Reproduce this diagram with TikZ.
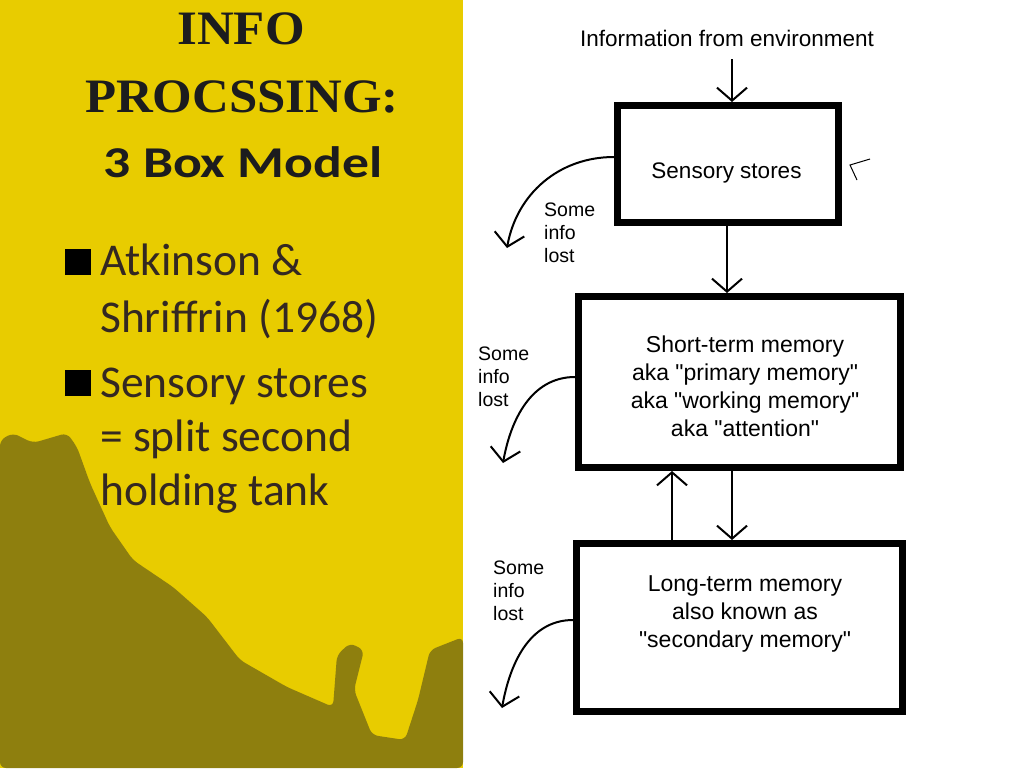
\documentclass[tikz,border=0pt]{standalone}
\usepackage{fontspec}
\newfontfamily\diagfont{Liberation Sans}
\newfontfamily\slidefont{Carlito}
\newfontfamily\titlefont{Liberation Serif}
\usetikzlibrary{positioning, arrows.meta}
\definecolor{panel}{RGB}{232,204,0}
\definecolor{stain}{RGB}{120,108,18}
\definecolor{ink}{RGB}{52,40,34}
\definecolor{titleink}{RGB}{28,28,30}

\begin{document}
\begin{tikzpicture}[x=1pt, y=-1pt,
flow/.style={-{Straight Barb[length=13pt,width=30pt]}, line width=2pt},
block/.style={draw, line width=7pt, rectangle, inner sep=0pt},
boxtext/.style={font=\diagfont\fontsize{23}{28}\selectfont, align=center, inner sep=0pt},
losttext/.style={font=\diagfont\fontsize{19.5}{23}\selectfont, align=left, inner sep=0pt, anchor=west},
slidetext/.style={font=\slidefont\fontsize{45.5}{57}\selectfont, text=ink, align=left, inner sep=0pt, anchor=base west},
titletext/.style={font=\titlefont\bfseries\fontsize{48}{56}\selectfont, text=titleink, anchor=base, xscale=1.06},
bulletsq/.style={fill=black, minimum size=26pt, inner sep=0pt, anchor=south west}]

\useasboundingbox (0,0) rectangle (1024,768);
\fill[white] (0,0) rectangle (1024,768);

% slide panel
\fill[panel] (0,0) rectangle (463,768);
\fill[stain, opacity=0.8, rounded corners=6pt] (0,440) -- (13,433) -- (33,443) -- (67,433) -- (77,447)
  -- (90,483) -- (110,527) -- (133,560) -- (173,587) -- (207,617) -- (240,660) -- (287,687)
  -- (333,707) -- (337,655) -- (350,643) -- (364,650) -- (354,690) -- (372,735) -- (405,740)
  -- (418,700) -- (430,650) -- (463,637) -- (463,768) -- (0,768) -- cycle;

\node[titletext] (T1) at (241,45) {INFO};
\node[titletext] (T2) at (242,112) {PROCSSING:};
\node[titletext, font=\slidefont\bfseries\fontsize{44}{50}\selectfont, xscale=1.15] (T3) at (243,177) {3 Box Model};

\node[bulletsq] (b1) at (65,275) {};
\node[slidetext] (p1) at (100,332) {Atkinson \&\\Shriffrin (1968)};
\node[bulletsq] (b2) at (65,396) {};
\node[slidetext, font=\slidefont\fontsize{45.5}{54}\selectfont] (p2) at (100,505) {Sensory stores\\= split second\\holding tank};

% three boxes
\node[font=\diagfont\fontsize{22.5}{26}\selectfont, inner sep=0pt, anchor=base] (Env) at (727,47) {Information from environment};

\node[block, minimum width=221pt, minimum height=117pt] (S) at (728,164) {};
\node[block, minimum width=322pt, minimum height=171pt] (M) at (739.5,382) {};
\node[block, minimum width=326pt, minimum height=168pt] (L) at (739.5,627.5) {};

\node[boxtext, font=\diagfont\fontsize{22.5}{28}\selectfont] (St) at (726.5,172.5) {Sensory stores};
\node[boxtext] (Mt) at (745,386) {Short-term memory\\aka "primary memory"\\aka "working memory"\\aka "attention"};
\node[boxtext] (Lt) at (745,614) {Long-term memory\\also known as\\"secondary memory"};

\node[losttext] (l1) at (544,233) {Some\\info\\lost};
\node[losttext] (l2) at (478,377) {Some\\info\\lost};
\node[losttext] (l3) at (493,591) {Some\\info\\lost};

\coordinate (drop1) at (507,248);
\coordinate (drop2) at (503,463);
\coordinate (drop3) at (502,708);

\draw[flow] ([xshift=5pt,yshift=-12pt]Env.base) -- ([xshift=4pt]S.north);
\draw[flow] ([xshift=-1pt]S.south) -- ([xshift=-1pt]S.south |- M.north);
\draw[flow] ([xshift=-7.5pt]M.south) -- ([xshift=-7.5pt]L.north);
\draw[flow] ([xshift=-67.5pt]L.north) -- ([xshift=-67.5pt]M.south);

\draw[flow] ([yshift=7pt]S.west) to[out=180, in=80] (drop1);
\draw[flow] ([yshift=5pt]M.west) to[out=180, in=80] (drop2);
\draw[flow] ([yshift=7.5pt]L.west) to[out=180, in=80] (drop3);

\draw[line width=1pt] (857,180) -- (850,165) -- (870,159);

\end{tikzpicture}
\end{document}
